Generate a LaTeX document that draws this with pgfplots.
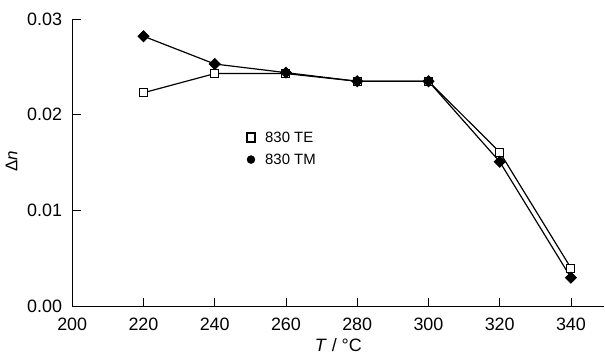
\documentclass[border=0pt]{standalone}
\usepackage{pgfplots}
\pgfplotsset{compat=1.18}
\usepackage{fontspec}
\setmainfont{Liberation Sans}
\begin{document}
\begin{tikzpicture}
\begin{axis}[
  name=ax,
  scale only axis,
  width=532.7bp, height=287.7bp,
  xmin=200, xmax=349.4, ymin=0, ymax=0.03,
  axis lines=left,
  axis line style={-, line width=1.1pt},
  tick align=inside,
  major tick length=8.5bp,
  tick style={line width=0.9pt, black},
  xtick={200,220,...,340},
  ytick={0,0.01,0.02,0.03},
  /pgf/number format/assume math mode=true,
  yticklabel style={/pgf/number format/fixed, /pgf/number format/fixed zerofill, /pgf/number format/precision=2, inner sep=0pt, xshift=-10bp},
  xticklabel style={inner sep=0pt, yshift=-11bp},
  scaled y ticks=false,
  every tick label/.append style={font=\fontsize{18}{20}\selectfont},
  xlabel={\textit{T} / °C},
  ylabel={Δ\textit{n}},
  xlabel style={font=\fontsize{18}{20}\selectfont, at={(axis description cs:0.5,0)}, anchor=base, inner sep=0pt, yshift=-45bp},
  ylabel style={font=\fontsize{17}{19}\selectfont, at={(axis description cs:0,0.505)}, anchor=base, inner sep=0pt, yshift=55bp},
  legend style={draw=none, fill=none, at={(0.322,0.549)}, anchor=west, font=\fontsize{15}{17}\selectfont, row sep=6bp, /tikz/every odd column/.append style={column sep=8bp}},
  legend cell align=left,
]
\addlegendimage{only marks, mark=square*, mark options={fill=white, draw=black, line width=2pt}, mark size=4.2bp}
\addlegendentry{830 TE}
\addlegendimage{only marks, mark=*, mark options={fill=black}, mark size=4bp}
\addlegendentry{830 TM}
\addplot[black, line width=1.2pt, mark=square*, mark options={fill=white, line width=1pt}, mark size=4bp, forget plot] coordinates {
(220,0.0223) (240,0.0243) (260,0.0243) (280,0.0235) (300,0.0235) (320,0.0161) (340,0.0040)};
\addplot[black, line width=1.2pt, mark=square*, mark options={fill=black, rotate=45}, mark size=3.7bp, forget plot] coordinates {
(220,0.0282) (240,0.0253) (260,0.0244) (280,0.0235) (300,0.0235) (320,0.0151) (340,0.0030)};
\end{axis}
\path (ax.south west) ++(-72.3bp,-48.3bp);
\path (ax.north east) ++(0,19bp);
\end{tikzpicture}
\end{document}
